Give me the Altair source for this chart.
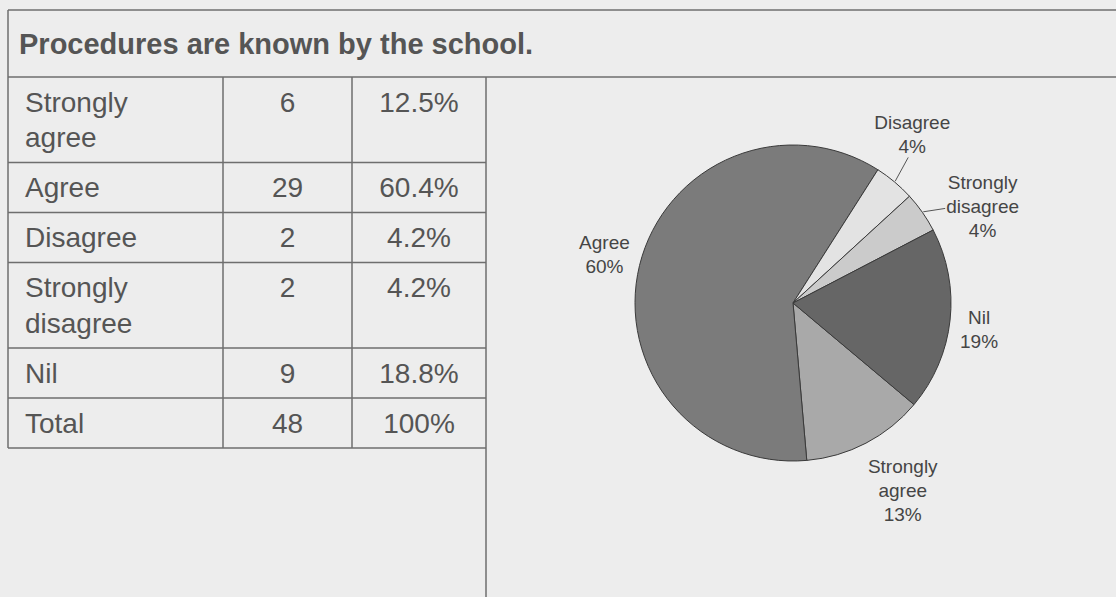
import math
import altair as alt
import pandas as pd

# ---------------- data ----------------
title = "Procedures are known by the school."
categories = ["Strongly agree", "Agree", "Disagree", "Strongly disagree", "Nil"]
counts = [6, 29, 2, 2, 9]
table_pct = ["12.5%", "60.4%", "4.2%", "4.2%", "18.8%"]
pie_pct = ["13%", "60%", "4%", "4%", "19%"]
total_label = "Total"
total_pct = "100%"
slice_colors = ["#a9a9a9", "#7b7b7b", "#e3e3e3", "#cbcbcb", "#666666"]

# ---------------- layout / style ----------------
W, H = 1116, 597
BG = "#ededed"
INK = "#555555"
LABEL_INK = "#454545"
LINE = "#6e6e6e"
FONT = "Liberation Sans"

FRAME_L, FRAME_T, HEAD_B = 8, 10, 77
COL_X = [8, 223, 352, 486]
ROW_BASE, ROW_LINE = 50, 35.5
TFS = 28

CX, CY, R = 793, 303, 158
START_DEG = 130
LFS, LLH, LDIST = 19, 24, 168

CW = {"S": .667, "t": .278, "r": .333, "o": .556, "n": .556, "g": .556, "l": .222,
      "y": .5, "a": .556, "e": .556, "A": .667, "D": .722, "i": .222, "s": .5,
      "d": .556, "N": .722, "%": .889, " ": .278}


def text_w(s, fs):
    return sum(CW.get(ch, .556) for ch in s) * fs


# ---------------- table ----------------
row_labels = [c.replace(" ", "\n") for c in categories] + [total_label]
row_nums = [str(v) for v in counts] + [str(sum(counts))]
row_pcts = table_pct + [total_pct]

tops, y = [], HEAD_B
for lab in row_labels:
    n = len(lab.split("\n"))
    h = ROW_BASE + ROW_LINE * (n - 1)
    tops.append((y, h))
    y += h
table_bottom = y

lab_df = pd.DataFrame({
    "x": [COL_X[0] + 17] * len(row_labels),
    "y": [t + 26.5 for t, h in tops],
    "text": row_labels,
})
num_df = pd.DataFrame({
    "x": [(COL_X[1] + COL_X[2]) / 2] * len(row_nums) + [(COL_X[2] + COL_X[3]) / 2] * len(row_pcts),
    "y": [t + 26.5 for t, h in tops] * 2,
    "text": row_nums + row_pcts,
})

segs = [
    (FRAME_L, FRAME_T, W, FRAME_T),
    (FRAME_L, HEAD_B, W, HEAD_B),
    (FRAME_L, FRAME_T, FRAME_L, table_bottom),
    (COL_X[1], HEAD_B, COL_X[1], table_bottom),
    (COL_X[2], HEAD_B, COL_X[2], table_bottom),
    (COL_X[3], HEAD_B, COL_X[3], H),
]
for t, h in tops:
    segs.append((FRAME_L, t + h, COL_X[3], t + h))
rule_df = pd.DataFrame(segs, columns=["x", "y", "x2", "y2"])

# ---------------- pie label placement (anchor of label box sits on the slice ray) ----------------
total = sum(counts)
mids, cum = [], 0
for v in counts:
    mids.append(START_DEG + 360 * (cum + v / 2) / total)
    cum += v
pie_texts = [c.replace(" ", "\n") + "\n" + p for c, p in zip(categories, pie_pct)]
halfs = []
for t in pie_texts:
    lines = t.split("\n")
    halfs.append((max(text_w(l, LFS) for l in lines) / 2, len(lines) * LLH / 2))


def clamp(v):
    return max(-1.0, min(1.0, v))


def place(a_deg, hw, hh):
    a = math.radians(a_deg)
    sx, sy = math.sin(a), -math.cos(a)
    px, py = LDIST * sx, LDIST * sy
    return CX + px + hw * clamp(2 * sx), CY + py + hh * clamp(2 * sy)


angles = [m % 360 for m in mids]
order = sorted(range(len(angles)), key=lambda i: angles[i])
M = 12
for _ in range(400):
    moved = False
    for k in range(len(order)):
        i, j = order[k], order[(k + 1) % len(order)]
        xi, yi = place(angles[i], *halfs[i])
        xj, yj = place(angles[j], *halfs[j])
        if (abs(xi - xj) < halfs[i][0] + halfs[j][0] + M and
                abs(yi - yj) < halfs[i][1] + halfs[j][1] + M):
            angles[i] -= 0.25
            angles[j] += 0.25
            moved = True
    if not moved:
        break

lx, ly, leads = [], [], []
for i, a in enumerate(angles):
    px, py = place(a, *halfs[i])
    py += 3
    nlines = len(pie_texts[i].split("\n"))
    lx.append(px)
    # Vega puts the first line at y; shift so the block is centred on py
    ly.append(py - (nlines - 1) * LLH / 2)
    if abs(a - (mids[i] % 360)) > 2:
        m = math.radians(mids[i])
        ex, ey = CX + (R + 1) * math.sin(m), CY - (R + 1) * math.cos(m)
        hw, hh = halfs[i]
        if px - hw <= ex <= px + hw:
            ax, ay = px - 4, (py + hh - 2 if ey > py else py - hh + 2)
        else:
            ax, ay = (px - hw - 1 if ex < px else px + hw + 1), py + 1
        leads.append((ax, ay, ex, ey))

plabel_df = pd.DataFrame({"x": lx, "y": ly, "text": pie_texts})
lead_df = pd.DataFrame(leads, columns=["x", "y", "x2", "y2"]) if leads else pd.DataFrame(
    {"x": [], "y": [], "x2": [], "y2": []})

pie_df = pd.DataFrame({"category": categories, "count": counts, "idx": list(range(len(counts)))})

# ---------------- chart ----------------
XN = lambda f: alt.X(f"{f}:Q", scale=None, axis=None)
YN = lambda f: alt.Y(f"{f}:Q", scale=None, axis=None)

rules = alt.Chart(rule_df).mark_rule(color=LINE, strokeWidth=1.5).encode(
    x=XN("x"), y=YN("y"), x2="x2:Q", y2="y2:Q")

title_layer = alt.Chart(pd.DataFrame({"t": [title]})).mark_text(
    align="left", baseline="middle", font=FONT, fontSize=29, fontWeight="bold", color=INK
).encode(x=alt.value(FRAME_L + 11), y=alt.value(45), text="t:N")

lab_layer = alt.Chart(lab_df).mark_text(
    align="left", baseline="middle", font=FONT, fontSize=TFS, color=INK,
    lineBreak="\n", lineHeight=ROW_LINE
).encode(x=XN("x"), y=YN("y"), text="text:N")

num_layer = alt.Chart(num_df).mark_text(
    align="center", baseline="middle", font=FONT, fontSize=TFS, color=INK
).encode(x=XN("x"), y=YN("y"), text="text:N")

arcs = alt.Chart(pie_df).mark_arc(outerRadius=R, stroke="#3a3a3a", strokeWidth=1).encode(
    theta=alt.Theta("count:Q", stack=True,
                    scale=alt.Scale(range=[math.radians(START_DEG), math.radians(START_DEG) + 2 * math.pi])),
    color=alt.Color("category:N", scale=alt.Scale(domain=categories, range=slice_colors), legend=None),
    order=alt.Order("idx:Q"),
    x=alt.value(CX), y=alt.value(CY),
)

plabels = alt.Chart(plabel_df).mark_text(
    align="center", baseline="middle", font=FONT, fontSize=LFS, color=LABEL_INK,
    lineBreak="\n", lineHeight=LLH
).encode(x=XN("x"), y=YN("y"), text="text:N")

leaders = alt.Chart(lead_df).mark_rule(color="#555555", strokeWidth=1).encode(
    x=XN("x"), y=YN("y"), x2="x2:Q", y2="y2:Q")

chart = alt.layer(rules, title_layer, lab_layer, num_layer, arcs, leaders, plabels).properties(
    width=W, height=H, background=BG, padding=0,
    autosize=alt.AutoSizeParams(type="none"),
).configure_view(stroke=None)

chart.save("out.html", embed_options={"renderer": "svg", "actions": False})
